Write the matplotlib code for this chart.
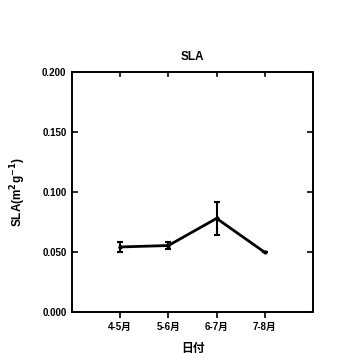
import matplotlib
matplotlib.use("Agg")
import matplotlib.pyplot as plt

plt.rcParams['font.family'] = ['Liberation Sans', 'Noto Sans CJK JP', 'DejaVu Sans']
plt.rcParams['font.weight'] = 'bold'
plt.rcParams['mathtext.default'] = 'bf'

# data
periods = ['4-5月', '5-6月', '6-7月', '7-8月']
sla = [0.0542, 0.0554, 0.0780, 0.0497]
sla_err = [0.0040, 0.0030, 0.0137, 0.0]
yticks = [0.0, 0.05, 0.10, 0.15, 0.20]

fig = plt.figure(figsize=(3.6, 3.6), dpi=100)
ax = fig.add_axes([72/360, 48/360, 241/360, 240/360])

x = list(range(1, len(periods) + 1))
ax.errorbar(x, sla, yerr=sla_err, color='black', lw=2, elinewidth=1.5,
            capsize=2, capthick=1.5, marker='o', ms=2)

ax.set_xlim(0, 5)
ax.set_ylim(0, 0.2)
ax.set_xticks(x)
ax.set_xticklabels(periods, fontsize=7, fontweight='bold')
ax.set_yticks(yticks)
ax.set_yticklabels(['%.3f' % v for v in yticks], fontsize=7, fontweight='bold')

ax.tick_params(axis='y', direction='in', right=True, length=4, width=1.2, pad=4)
ax.tick_params(axis='x', direction='out', length=4, width=1.2, pad=3)
ax.tick_params(axis='x', which='both', top=False)
for v in x:
    ax.plot([v, v], [0.2, 0.2 - 0.0035], color='black', lw=1.2, clip_on=False)

for s in ax.spines.values():
    s.set_linewidth(1.4)

ax.set_title('SLA', fontsize=8.5, fontweight='bold', pad=9)
ax.set_ylabel('SLA(m$^{2}$g$^{-1}$)', fontsize=8.5, fontweight='bold', labelpad=10)
ax.set_xlabel('日付', fontsize=8.5, fontweight='bold', labelpad=8)

fig.savefig('out.png', dpi=100)
